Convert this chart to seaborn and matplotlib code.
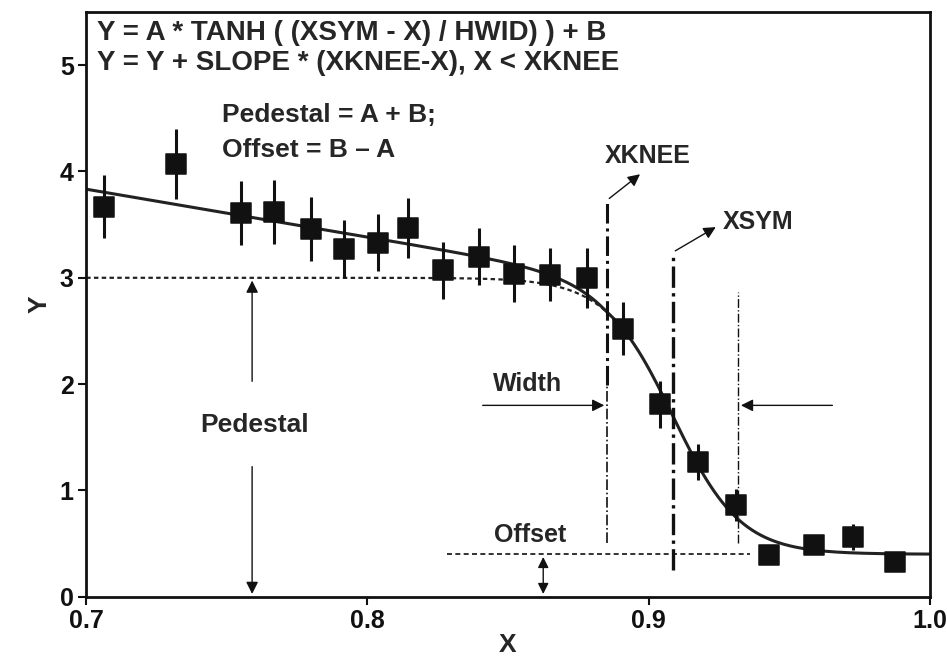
import matplotlib
matplotlib.use("Agg")
import matplotlib.pyplot as plt
import numpy as np
import pandas as pd
import seaborn as sns

# measured points
x_pts = [0.7064, 0.732, 0.755, 0.7669, 0.780, 0.7918, 0.8036, 0.8146, 0.827, 0.8395, 0.852,
         0.865, 0.878, 0.891, 0.904, 0.9174, 0.931, 0.9427, 0.9587, 0.9726, 0.9875]
y_pts = [3.67, 4.07, 3.61, 3.62, 3.46, 3.27, 3.33, 3.47, 3.07, 3.20, 3.04,
         3.03, 3.00, 2.52, 1.81, 1.27, 0.86, 0.39, 0.49, 0.56, 0.33]
y_err = [0.30, 0.33, 0.30, 0.30, 0.30, 0.27, 0.27, 0.28, 0.27, 0.27, 0.27,
         0.25, 0.28, 0.25, 0.22, 0.17, 0.15, 0.05, 0.06, 0.12, 0.06]

# fit parameters shown by the formula on the chart
A, B = 1.3, 1.7
XSYM, XKNEE, HWID, SLOPE = 0.9086, 0.8852, 0.024, 4.5

sns.set_theme(style="white")
plt.rcParams["font.family"] = ["Liberation Sans", "DejaVu Sans"]
plt.rcParams["font.weight"] = "bold"

fig = plt.figure(figsize=(9.47, 6.66), dpi=100)
ax = fig.add_axes([0.091, 0.104, 0.891, 0.878])

xc = np.linspace(0.7, 1.0, 400)
base = A * np.tanh((XSYM - xc) / HWID) + B
full = base + np.where(xc < XKNEE, SLOPE * (XKNEE - xc), 0)
curve = pd.DataFrame({"x": xc, "y": full})
sns.lineplot(data=curve, x="x", y="y", ax=ax, color="#222222", lw=2.2)
m = xc < XKNEE + 0.005
ax.plot(xc[m], base[m], color="#222222", lw=1.6, ls=(0, (2, 1.5)))

ax.errorbar(x_pts, y_pts, yerr=y_err, fmt="none", ecolor="#111111", elinewidth=2.2)
sns.scatterplot(x=x_pts, y=y_pts, ax=ax, marker="s", s=190, color="#111111",
                edgecolor="#111111", zorder=5)

# vertical reference lines
ax.plot([XKNEE, XKNEE], [1.99, 3.73], color="#111111", lw=2.2, ls="-.")
ax.plot([XKNEE, XKNEE], [0.51, 1.99], color="#111111", lw=1.2, ls="-.")
ax.plot([XSYM, XSYM], [0.25, 3.24], color="#111111", lw=2.4, ls="-.")
ax.plot([0.9318, 0.9318], [0.51, 2.87], color="#111111", lw=1.0, ls="-.")

arw = dict(arrowstyle="-|>", color="#111111", lw=1.0, mutation_scale=18)
dbl = dict(arrowstyle="<|-|>", color="#111111", lw=1.0, mutation_scale=16)
ax.annotate("", xy=(0.8977, 3.99), xytext=(XKNEE, 3.73), arrowprops=arw)
ax.annotate("", xy=(0.9247, 3.49), xytext=(XSYM, 3.24), arrowprops=arw)
ax.text(0.8845, 4.15, "XKNEE", fontsize=18, fontweight="bold", va="center")
ax.text(0.9262, 3.52, "XSYM", fontsize=18, fontweight="bold", va="center")

# width arrows
ax.annotate("", xy=(XKNEE, 1.80), xytext=(0.840, 1.80), arrowprops=arw)
ax.annotate("", xy=(0.9318, 1.80), xytext=(0.9663, 1.80), arrowprops=arw)
ax.text(0.8568, 2.0, "Width", fontsize=18, fontweight="bold", ha="center", va="center")

# pedestal
ax.annotate("", xy=(0.759, 3.0), xytext=(0.759, 2.0), arrowprops=arw)
ax.annotate("", xy=(0.759, 0.0), xytext=(0.759, 1.25), arrowprops=arw)
ax.text(0.760, 1.62, "Pedestal", fontsize=19, fontweight="bold", ha="center", va="center")

# offset
ax.plot([0.8283, 0.936], [0.4, 0.4], color="#111111", lw=1.2, ls=(0, (3, 2)))
ax.annotate("", xy=(0.8625, 0.4), xytext=(0.8625, 0.0), arrowprops=dbl)
ax.text(0.858, 0.58, "Offset", fontsize=18, fontweight="bold", ha="center", va="center")

ax.text(0.704, 5.30, "Y = A * TANH ( (XSYM - X) / HWID) ) + B", fontsize=20, fontweight="bold", va="center")
ax.text(0.704, 5.02, "Y = Y + SLOPE * (XKNEE-X), X < XKNEE", fontsize=20, fontweight="bold", va="center")
ax.text(0.7483, 4.53, "Pedestal = A + B;", fontsize=19, fontweight="bold", va="center")
ax.text(0.7483, 4.20, "Offset = B \u2013 A", fontsize=19, fontweight="bold", va="center")

ax.set_xlim(0.7, 1.0)
ax.set_ylim(0, 5.5)
ax.set_xticks([0.7, 0.8, 0.9, 1.0])
ax.set_xticklabels(["0.7", "0.8", "0.9", "1.0"])
ax.set_yticks([0, 1, 2, 3, 4, 5])
ax.set_xlabel("X", fontsize=19, fontweight="bold", labelpad=0)
ax.set_ylabel("Y", fontsize=19, fontweight="bold", labelpad=6)
ax.tick_params(axis="both", labelsize=18, direction="out", length=6, width=1.5,
               bottom=True, left=True, colors="#111111", pad=3)
for s in ax.spines.values():
    s.set_color("#111111")
    s.set_linewidth(2)

fig.savefig("out.png", dpi=100)
